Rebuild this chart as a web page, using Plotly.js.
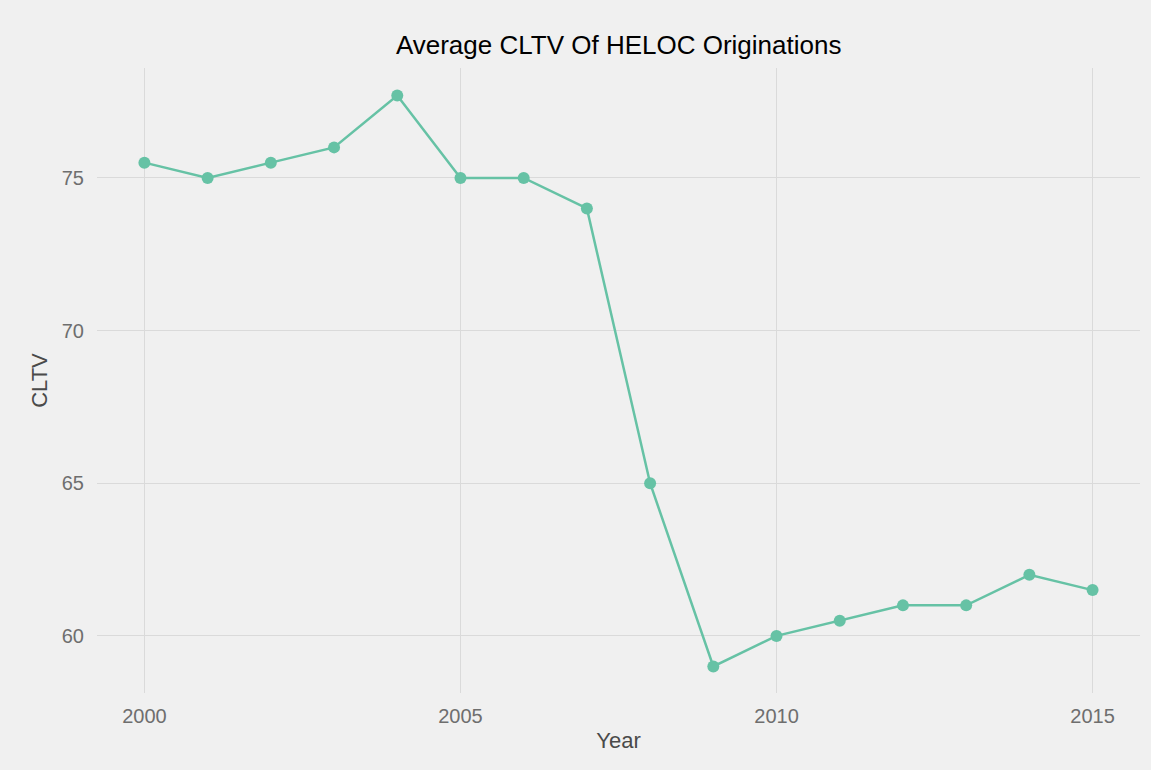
<!DOCTYPE html>
<html>
<head>
<meta charset="utf-8">
<script src="https://cdn.plot.ly/plotly-3.0.1.min.js"></script>
<style>html,body{margin:0;padding:0;background:#F0F0F0;}#chart{width:1151px;height:770px;}</style>
</head>
<body>
<div id="chart"></div>
<script>
const years = [2000,2001,2002,2003,2004,2005,2006,2007,2008,2009,2010,2011,2012,2013,2014,2015];
const cltv = [75.5,75,75.5,76,77.7,75,75,74,65,59,60,60.5,61,61,62,61.5];
const xTicks = [2000,2005,2010,2015];
const yTicks = [60,65,70,75];

Plotly.newPlot('chart', [{
  x: years, y: cltv, type: 'scatter', mode: 'lines+markers',
  line: {color: '#66C2A5', width: 2.5},
  marker: {color: '#66C2A5', size: 12},
  hoverinfo: 'x+y'
}], {
  width: 1151, height: 770,
  paper_bgcolor: '#F0F0F0', plot_bgcolor: '#F0F0F0',
  margin: {l: 97, r: 11, t: 68, b: 77},
  font: {family: 'Liberation Sans, Arial, sans-serif'},
  title: {text: 'Average CLTV Of HELOC Originations', x: 0.5375, xanchor: 'center', y: 0.942, yanchor: 'middle',
          font: {size: 26, color: '#000000'}},
  xaxis: {range: [1999.25, 2015.75], tickvals: xTicks, ticktext: xTicks.map(String),
          showgrid: true, gridcolor: '#DADADA', gridwidth: 1.3, zeroline: false, showline: false,
          ticks: 'outside', ticklen: 5, tickcolor: 'rgba(0,0,0,0)', tickfont: {size: 20, color: '#6E6E6E'},
          title: {text: 'Year', font: {size: 22, color: '#4A4A4A'}, standoff: 6}},
  yaxis: {range: [58.13, 78.6], tickvals: yTicks, ticktext: yTicks.map(String),
          showgrid: true, gridcolor: '#DADADA', gridwidth: 1.3, zeroline: false, showline: false,
          ticks: 'outside', ticklen: 8, tickcolor: 'rgba(0,0,0,0)', tickfont: {size: 20, color: '#6E6E6E'},
          title: {text: 'CLTV', font: {size: 22, color: '#4A4A4A'}, standoff: 8}},
  showlegend: false
}, {displayModeBar: false});
</script>
</body>
</html>
